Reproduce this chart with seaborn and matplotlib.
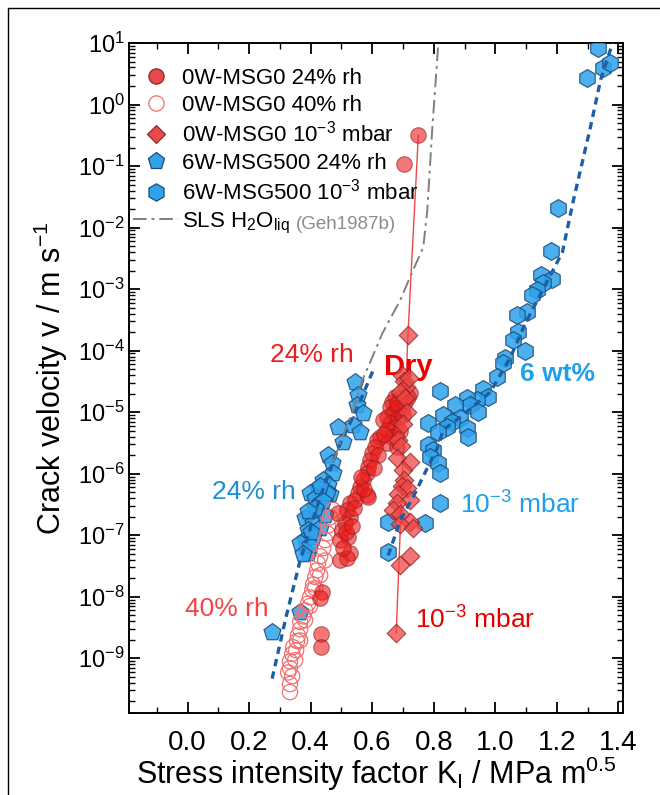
import numpy as np
import matplotlib
matplotlib.use("Agg")
import matplotlib.pyplot as plt
import seaborn as sns
from matplotlib.lines import Line2D
from matplotlib.ticker import LogLocator, MultipleLocator, FormatStrFormatter, NullFormatter

# K_I in MPa m^0.5, lv_* = log10 of crack velocity in m/s
k_c24 = [0.750, 0.704, 0.724, 0.707, 0.691, 0.675, 0.665, 0.659, 0.681, 0.698, 0.668, 0.649,
         0.685, 0.659, 0.636, 0.675, 0.649, 0.626, 0.665, 0.616, 0.649, 0.610, 0.600, 0.594,
         0.587, 0.584, 0.571, 0.561, 0.555, 0.584, 0.529, 0.545, 0.681, 0.519, 0.529, 0.512,
         0.502, 0.522, 0.496, 0.529, 0.496, 0.519, 0.489, 0.437, 0.431, 0.434, 0.434, 0.587,
         0.540, 0.505, 0.515, 0.535, 0.690, 0.700, 0.640, 0.620, 0.605, 0.575, 0.565, 0.680, 0.715]
lv_c24 = [-0.50, -0.97, -4.69, -4.84, -4.77, -4.76, -4.84, -4.92, -4.93, -4.97, -5.02, -5.08,
          -5.10, -5.18, -5.13, -5.24, -5.29, -5.41, -5.41, -5.46, -5.50, -5.57, -5.67, -5.78,
          -5.89, -5.99, -6.11, -6.22, -6.32, -6.35, -6.48, -6.43, -5.57, -6.59, -6.71, -6.80,
          -6.92, -7.03, -7.08, -7.29, -7.41, -7.37, -6.64, -7.93, -8.02, -8.61, -8.82, -6.38,
          -6.55, -7.20, -6.95, -6.85, -5.30, -5.05, -5.35, -5.70, -5.90, -6.25, -6.05, -4.85, -4.75]

k_o40 = [0.473, 0.463, 0.457, 0.454, 0.447, 0.441, 0.431, 0.424, 0.421, 0.415, 0.408, 0.405,
         0.398, 0.392, 0.382, 0.376, 0.366, 0.366, 0.359, 0.356, 0.343, 0.340, 0.333, 0.333,
         0.340, 0.333, 0.333, 0.415, 0.398, 0.366, 0.353, 0.382, 0.431, 0.447, 0.350, 0.327]
lv_o40 = [-6.59, -6.71, -6.84, -6.97, -7.08, -7.21, -7.34, -7.46, -7.57, -7.68, -7.80, -7.89,
          -8.01, -8.11, -8.22, -8.32, -8.41, -8.53, -8.63, -8.72, -8.82, -8.93, -9.05, -9.16,
          -9.29, -9.42, -9.55, -7.86, -8.15, -8.71, -8.87, -8.38, -7.65, -7.41, -9.03, -9.23]

k_dry = [0.717, 0.698, 0.704, 0.711, 0.691, 0.707, 0.685, 0.694, 0.681, 0.724, 0.701, 0.704,
         0.698, 0.714, 0.685, 0.724, 0.681, 0.668, 0.691, 0.724, 0.691, 0.733, 0.724, 0.691,
         0.678, 0.714, 0.700, 0.718]
lv_dry = [-3.75, -4.40, -4.50, -4.59, -4.67, -4.77, -5.46, -5.55, -5.75, -5.81, -5.94, -6.11,
          -6.20, -6.24, -6.33, -6.43, -6.48, -6.59, -6.66, -6.79, -6.82, -6.89, -7.33, -7.49,
          -8.59, -5.00, -5.20, -4.45]

k_dry_line = [0.750, 0.716, 0.678]
lv_dry_line = [-0.50, -3.75, -8.59]

k_p24 = [0.545, 0.555, 0.551, 0.571, 0.489, 0.538, 0.561, 0.506, 0.457, 0.470, 0.473, 0.441,
         0.457, 0.424, 0.398, 0.415, 0.463, 0.431, 0.454, 0.382, 0.408, 0.392, 0.431, 0.382,
         0.408, 0.366, 0.392, 0.398, 0.421, 0.447, 0.366, 0.275,
         0.430, 0.440, 0.400, 0.415, 0.390, 0.375]
lv_p24 = [-4.51, -4.72, -4.89, -5.02, -5.24, -5.21, -5.33, -5.49, -5.70, -5.83, -5.99, -6.11,
          -6.19, -6.24, -6.32, -6.40, -6.33, -6.48, -6.32, -6.72, -6.80, -6.92, -6.89, -7.08,
          -7.03, -7.13, -7.29, -7.16, -6.59, -6.67, -8.25, -8.58,
          -6.20, -6.45, -6.95, -6.55, -6.60, -7.30]

k_h3 = [1.335, 1.299, 1.351, 1.374, 1.205, 1.182, 1.150, 1.185, 1.156, 1.137, 1.120, 1.104,
        1.072, 1.075, 1.059, 1.098, 1.033, 1.026, 1.007, 0.821, 0.961, 0.977, 0.942, 0.909,
        0.919, 0.945, 0.870, 0.831, 0.886, 0.860, 0.844, 0.782, 0.815, 0.909, 0.912, 0.782,
        0.798, 0.789, 0.815, 0.821, 0.821, 0.772, 0.652, 0.652]
lv_h3 = [0.92, 0.43, 0.59, 0.67, -1.68, -2.38, -2.77, -2.84, -2.90, -3.02, -3.10, -3.37,
         -3.42, -3.70, -3.83, -4.01, -4.12, -4.20, -4.43, -4.66, -4.63, -4.76, -4.80, -4.77,
         -4.89, -5.00, -4.89, -5.05, -5.10, -5.16, -5.24, -5.18, -5.33, -5.26, -5.41, -5.54,
         -5.62, -5.73, -5.83, -5.99, -6.48, -6.80, -6.79, -7.28]

# fitted curves
k_fit_rh = [0.275, 0.320, 0.366, 0.431, 0.489, 0.555, 0.603]
lv_fit_rh = [-9.33, -8.33, -7.41, -6.38, -5.59, -4.89, -4.32]
k_fit_6w = [0.652, 0.691, 0.733, 0.772, 0.811, 0.831, 0.886, 0.942, 0.984, 1.049, 1.098,
            1.163, 1.218, 1.254, 1.309, 1.342, 1.381]
lv_fit_6w = [-7.33, -6.76, -6.38, -5.98, -5.59, -5.29, -5.08, -4.85, -4.67, -4.11, -3.55,
             -2.93, -2.40, -1.55, -0.37, 0.40, 1.0]

# SLS water (Geh1987b)
k_sls = [0.473, 0.512, 0.538, 0.568, 0.600, 0.633, 0.691, 0.733, 0.766, 0.779, 0.795, 0.815]
lv_sls = [-5.81, -5.29, -4.97, -4.48, -4.11, -3.72, -3.18, -2.69, -2.32, -1.72, -0.41, 1.0]

labels = ["0W-MSG0 24% rh", "0W-MSG0 40% rh", "0W-MSG0 10$^{-3}$ mbar",
          "6W-MSG500 24% rh", "6W-MSG500 10$^{-3}$ mbar", "SLS H$_2$O$_{\\rm liq}$"]

sns.set_style("ticks")
plt.rcParams['font.family'] = ['Liberation Sans', 'DejaVu Sans']
plt.rcParams['mathtext.fontset'] = 'custom'
plt.rcParams['mathtext.rm'] = 'Liberation Sans'
plt.rcParams['mathtext.it'] = 'Liberation Sans:italic'
plt.rcParams['mathtext.bf'] = 'Liberation Sans:bold'
for key in ['text.color', 'axes.labelcolor', 'xtick.color', 'ytick.color', 'axes.edgecolor']:
    plt.rcParams[key] = 'black'

RED = '#f01c1c'
RED_EDGE = '#8a1f1f'
OPEN_RED = '#f27070'
DIA = '#f04545'
BLUE = '#2ea3ec'
BLUE_EDGE = '#1d4a78'
FIT = '#1a5fa8'
GREY = '#808080'

fig = plt.figure(figsize=(6.6, 7.95), dpi=100)
ax = fig.add_axes([0.1955, 0.1031, 0.7485, 0.8428])

def v(lv):
    return np.power(10.0, np.array(lv))

ax.plot(k_dry_line, v(lv_dry_line), color='#f04848', lw=1.0, zorder=1)

sns.scatterplot(x=k_p24, y=v(lv_p24), marker='p', s=165, color=BLUE, edgecolor=BLUE_EDGE,
                linewidth=0.9, alpha=0.85, ax=ax, zorder=3)
sns.scatterplot(x=k_h3, y=v(lv_h3), marker='h', s=165, color=BLUE, edgecolor=BLUE_EDGE,
                linewidth=0.9, alpha=0.85, ax=ax, zorder=3)
sns.scatterplot(x=k_o40, y=v(lv_o40), marker='o', s=120, color=OPEN_RED, linewidth=0.9,
                ax=ax, zorder=3)
ax.collections[-1].set_facecolor('none')
ax.collections[-1].set_edgecolor(OPEN_RED)
sns.scatterplot(x=k_c24, y=v(lv_c24), marker='o', s=125, color=RED, edgecolor=RED_EDGE,
                linewidth=0.8, alpha=0.6, ax=ax, zorder=4)
sns.scatterplot(x=k_dry, y=v(lv_dry), marker='D', s=90, color=DIA, edgecolor=RED_EDGE,
                linewidth=0.8, alpha=0.75, ax=ax, zorder=4)

ax.plot(k_fit_rh, v(lv_fit_rh), color=FIT, lw=2.4, ls=(0, (2.2, 1.6)), zorder=5)
ax.plot(k_fit_6w, v(lv_fit_6w), color=FIT, lw=2.4, ls=(0, (2.2, 1.6)), zorder=5)
ax.plot(k_sls, v(lv_sls), color=GREY, lw=1.4, ls=(0, (7, 2.5, 1.5, 2.5)), zorder=5)

ax.set_yscale('log')
ax.set_xlim(-0.19, 1.415)
ax.set_ylim(10 ** -9.89, 10 ** 1)
ax.xaxis.set_major_locator(MultipleLocator(0.2))
ax.xaxis.set_minor_locator(MultipleLocator(0.1))
ax.xaxis.set_major_formatter(FormatStrFormatter('%.1f'))
ax.yaxis.set_major_locator(LogLocator(base=10, numticks=20))
ax.yaxis.set_minor_locator(LogLocator(base=10, subs=np.arange(2, 10), numticks=20))
ax.yaxis.set_minor_formatter(NullFormatter())
ax.tick_params(which='both', direction='in', top=True, right=True, colors='black')
ax.tick_params(which='major', length=8, width=1.3)
ax.tick_params(which='minor', length=4, width=1.0)
ax.tick_params(axis='x', labelsize=20, pad=12)
ax.tick_params(axis='y', labelsize=17, pad=3)
for sp in ax.spines.values():
    sp.set_linewidth(1.4)
    sp.set_color('black')

ax.set_xlabel("Stress intensity factor K$_{\\rm I}$ / MPa m$^{0.5}$", fontsize=22, labelpad=-1)
ax.set_ylabel("Crack velocity v / m s$^{-1}$", fontsize=22, labelpad=6)

handles = [
    Line2D([], [], ls='none', marker='o', ms=11, mfc='#e8484b', mec=RED_EDGE, mew=0.8),
    Line2D([], [], ls='none', marker='o', ms=11, mfc='none', mec=OPEN_RED, mew=0.9),
    Line2D([], [], ls='none', marker='D', ms=9.5, mfc='#ea4a4a', mec=RED_EDGE, mew=0.8),
    Line2D([], [], ls='none', marker='p', ms=12.5, mfc=BLUE, mec=BLUE_EDGE, mew=0.9),
    Line2D([], [], ls='none', marker='h', ms=12.5, mfc=BLUE, mec=BLUE_EDGE, mew=0.9),
    Line2D([], [], color=GREY, lw=1.4, ls=(0, (7, 2.5, 1.5, 2.5))),
]
leg = ax.legend(handles, labels, loc='upper left', bbox_to_anchor=(-0.016, 0.981),
                frameon=False, fontsize=16, borderaxespad=0.0, borderpad=0.55,
                labelspacing=0.25, handlelength=2.0, handletextpad=0.2)
for t in leg.get_texts():
    t.set_color('black')

fig.canvas.draw()
bb = leg.get_texts()[-1].get_window_extent()
ax.annotate("(Geh1987b)", xy=(bb.x1 + 6, bb.y0 + 7), xycoords='figure pixels',
            fontsize=13.5, color='#8c8c8c', va='baseline', ha='left')

ax.text(0.405, 10 ** -4.07, "24% rh", color='#ee1c1c', fontsize=19, ha='center', va='center')
ax.text(0.64, 10 ** -4.27, "Dry", color='#ee0000', fontsize=21, fontweight='bold',
        ha='left', va='center')
ax.text(1.081, 10 ** -4.38, "6 wt%", color='#1ea0ec', fontsize=19, fontweight='bold',
        ha='left', va='center')
ax.text(0.08, 10 ** -6.30, "24% rh", color='#1b8fd3', fontsize=19, ha='left', va='center')
ax.text(0.886, 10 ** -6.51, "10$^{-3}$ mbar", color='#1ea0ec', fontsize=19, ha='left', va='center')
ax.text(-0.008, 10 ** -8.20, "40% rh", color='#f04646', fontsize=19, ha='left', va='center')
ax.text(0.74, 10 ** -8.38, "10$^{-3}$ mbar", color='#e80000', fontsize=19, ha='left', va='center')

# frame lines of the cropped page
fig.add_artist(Line2D([8 / 660, 8 / 660], [0, 1 - 8 / 795], transform=fig.transFigure,
                      color='black', lw=1.0))
fig.add_artist(Line2D([8 / 660, 1], [1 - 8 / 795, 1 - 8 / 795], transform=fig.transFigure,
                      color='black', lw=1.0))

fig.savefig('out.png', dpi=100)
